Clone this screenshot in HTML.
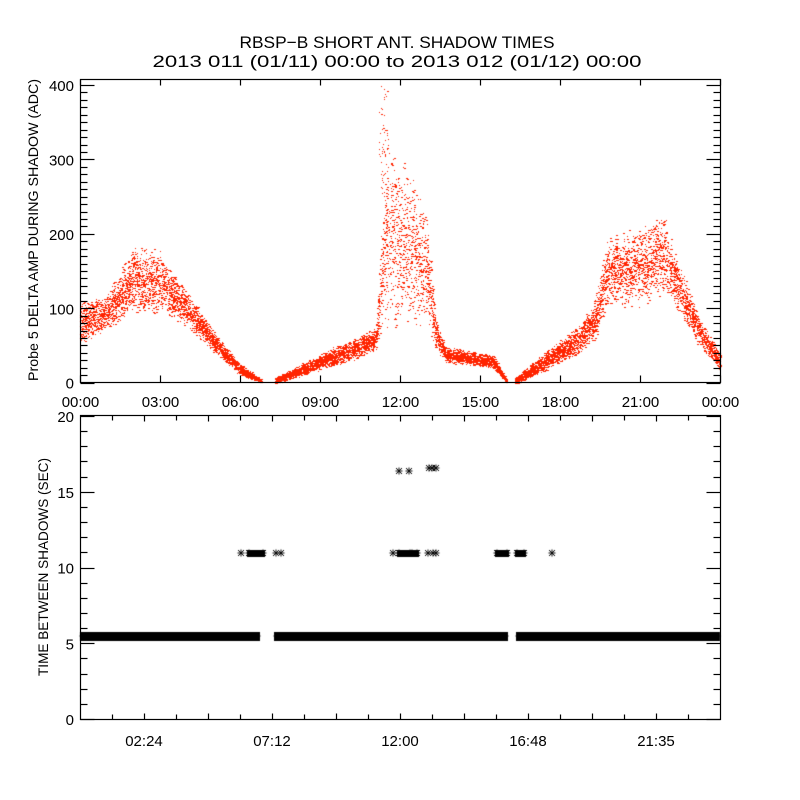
<!DOCTYPE html>
<html><head><meta charset="utf-8"><style>
body{margin:0;background:#fff;width:800px;height:800px;overflow:hidden}
#c{position:absolute;left:0;top:0}
svg{position:absolute;left:0;top:0}
text{font-family:"Liberation Sans",sans-serif;fill:#000}
</style></head><body>
<canvas id="c" width="800" height="800"></canvas>
<svg width="800" height="800" id="s">
<text x="397" y="48" font-size="17" text-anchor="middle" textLength="315" lengthAdjust="spacingAndGlyphs">RBSP−B SHORT ANT. SHADOW TIMES</text>
<text x="397" y="67" font-size="17" text-anchor="middle" textLength="489" lengthAdjust="spacingAndGlyphs">2013 011 (01/11) 00:00 to 2013 012 (01/12) 00:00</text>
<text transform="translate(38,230) rotate(-90)" font-size="14" text-anchor="middle" textLength="302" lengthAdjust="spacingAndGlyphs">Probe 5 DELTA AMP DURING SHADOW (ADC)</text>
<text transform="translate(48,567) rotate(-90)" font-size="14" text-anchor="middle" textLength="218" lengthAdjust="spacingAndGlyphs">TIME BETWEEN SHADOWS (SEC)</text>
<g id="g"></g>
</svg>
<script>
var g=document.getElementById('g');var h='';
function L(x1,y1,x2,y2){h+='<line x1="'+x1+'" y1="'+y1+'" x2="'+x2+'" y2="'+y2+'" stroke="#000" stroke-width="1.2"/>';}
function T(x,y,s,a){h+='<text x="'+x+'" y="'+y+'" font-size="15" text-anchor="'+a+'">'+s+'</text>';}
var X0=80.5,X1=720.5,Y0=79.5,Y1=382.5;
h+='<rect x="'+X0+'" y="'+Y0+'" width="640" height="303" fill="none" stroke="#000" stroke-width="1.2"/>';
function y1v(v){return 382.7-v*0.7443;}
for(var v=0;v<=400;v+=10){var y=Math.round(y1v(v))+0.5;var len=(v%100==0)?14:7;L(X0,y,X0+len,y);L(X1,y,X1-len,y);}
for(var v=0;v<=400;v+=100){T(74,y1v(v)+6,v,'end');}
var lab=['00:00','03:00','06:00','09:00','12:00','15:00','18:00','21:00','00:00'];
for(var i=0;i<=8;i++){var x=Math.round(80+i*80)+0.5;L(x,Y1,x,Y1-7);L(x,Y0,x,Y0+6);T(x,407,lab[i],'middle');}
var P0=415.5,P1=719.5;
h+='<rect x="'+X0+'" y="'+P0+'" width="640" height="304" fill="none" stroke="#000" stroke-width="1.2"/>';
function y2v(v){return 719-v*15.15;}
for(var v=0;v<=20;v++){var y=Math.round(y2v(v))+0.5;var len=(v%5==0)?14:7;L(X0,y,X0+len,y);L(X1,y,X1-len,y);if(v%5==0)T(74,y2v(v)+6,v,'end');}
var lab2=['02:24','07:12','12:00','16:48','21:35'];
for(var i=1;i<20;i++){var x=80+i*32+0.5;var len=(i%2==0)?6:5;L(x,P1,x,P1-len);L(x,P0,x,P0+len);}
for(var i=0;i<5;i++)T(144+i*128,746,lab2[i],'middle');
g.innerHTML=h;

var c=document.getElementById('c').getContext('2d');
var seed=12345;function R(){seed=(seed*16807)%2147483647;return seed/2147483647;}
function interp(pts,t){for(var i=0;i<pts.length-1;i++){if(t>=pts[i][0]&&t<=pts[i+1][0]){var f=(t-pts[i][0])/(pts[i+1][0]-pts[i][0]);return [pts[i][1]+f*(pts[i+1][1]-pts[i][1]),pts[i][2]+f*(pts[i+1][2]-pts[i][2])];}}return null;}
var segs=[
 [[0,80,25],[1,95,22],[2,138,40],[2.5,140,40],[3,135,38],[4,100,22],[5,55,13],[6,18,7],[6.8,2,2]],
 [[7.3,2,4],[9,28,10],[10.5,48,14],[11.1,60,14]],
 [[16.3,2,5],[17.5,30,12],[18.7,58,17],[19.3,85,25],[19.8,150,45],[21,155,48],[21.9,172,50],[22.5,125,32],[23.2,70,18],[24,28,10]],
 [[13.3,70,20],[13.7,38,10],[15.5,28,8],[16,2,2]]
];
c.fillStyle='rgb(255,36,0)';
for(var s=0;s<segs.length;s++){var p=segs[s];var t0=p[0][0],t1=p[p.length-1][0];var n=Math.round((t1-t0)*480);
 for(var k=0;k<n;k++){var t=t0+R()*(t1-t0);var r=interp(p,t);if(!r)continue;var u=(R()+R())-1;u*=1.15;var v=r[0]+u*r[1];if(v<0)v=0;
  var x=80+t*640/24;c.fillRect(Math.round(x),Math.round(y1v(v)),R()<0.4?2:1,1);}}
var sp=[[11.1,60,15],[11.3,140,60],[11.5,200,100],[12,190,90],[12.6,170,80],[13.0,150,60],[13.3,80,25]];
for(var k=0;k<1000;k++){var t=11.1+R()*2.2;var r=interp(sp,t);var u=(R()+R())-1;var v=r[0]+u*r[1]*1.3;if(v<0)continue;var x=80+t*640/24;c.fillRect(Math.round(x),Math.round(y1v(v)),R()<0.4?2:1,1);}
for(var k=0;k<60;k++){var t=11.2+R()*0.35;var v=250+R()*150;c.fillRect(Math.round(80+t*640/24),Math.round(y1v(v)),1,1);}
c.strokeStyle='#000';c.lineWidth=1;
function star(x,y){c.beginPath();c.moveTo(x-3.5,y);c.lineTo(x+3.5,y);c.moveTo(x,y-3.5);c.lineTo(x,y+3.5);c.moveTo(x-3,y-3);c.lineTo(x+3,y+3);c.moveTo(x-3,y+3);c.lineTo(x+3,y-3);c.stroke();}
var y55=636;
function band(a,b){c.fillStyle='#000';c.fillRect(a,y55-4,b-a,9);star(a+3,y55);star(b-3,y55);}
band(80,260);band(274,508);band(516,720);
var y11=553;
function blk(a,b){c.fillStyle='#000';c.fillRect(a,y11-3,b-a,7);star(a+2,y11);star(b-2,y11);}
star(241,y11);blk(247,265);star(276,y11);star(281,y11);
star(393,y11);blk(397,412);blk(410,419);star(428,y11);star(433,y11);star(436,y11);
blk(495,509);blk(515,526);star(552,y11);
star(399,471);star(409,471);star(429,468);star(432,468);star(436,468);
</script>
</body></html>
